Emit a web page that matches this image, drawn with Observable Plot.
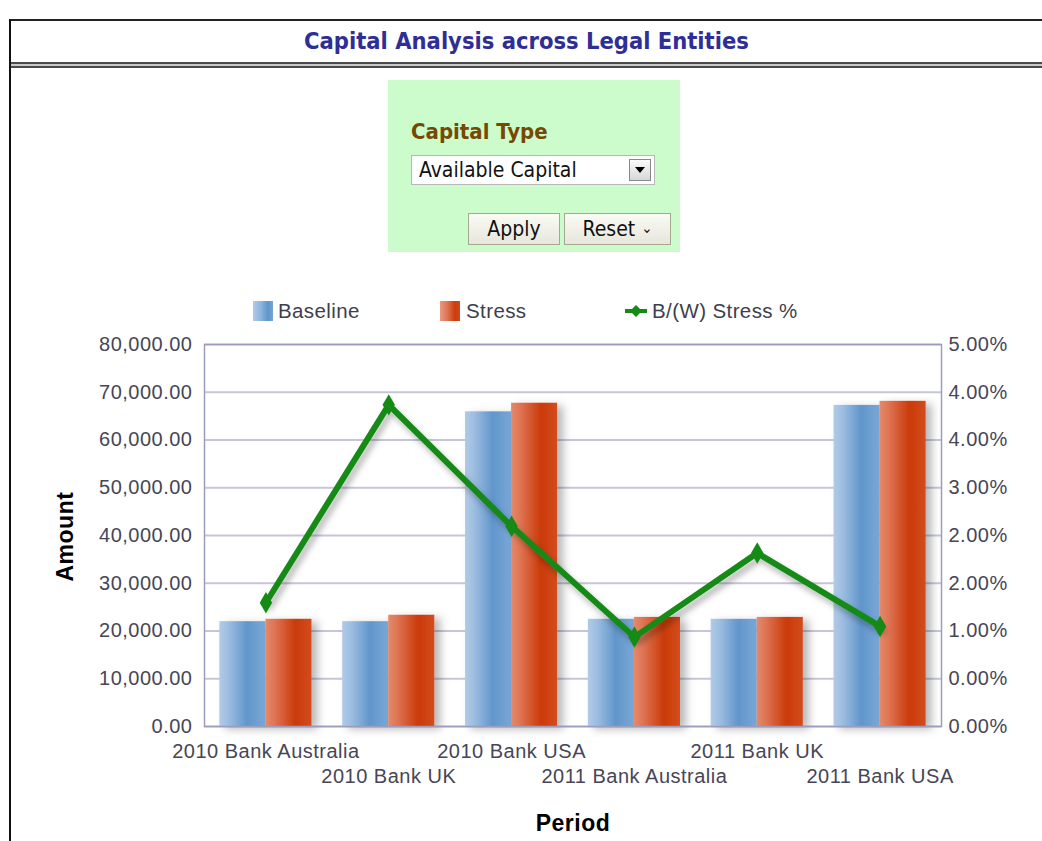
<!DOCTYPE html>
<html>
<head>
<meta charset="utf-8">
<script src="https://cdn.jsdelivr.net/npm/d3@7"></script>
<script src="https://cdn.jsdelivr.net/npm/@observablehq/plot@0.6"></script>
<style>
  html, body { margin: 0; padding: 0; }
  body { width: 1042px; height: 841px; overflow: hidden; background: #fff; position: relative; font-family: "Liberation Sans", Arial, sans-serif; }
  .abs { position: absolute; }
  #frameTop { left: 9px; top: 19px; width: 1040px; height: 2px; background: #222; }
  #frameLeft { left: 9px; top: 19px; width: 2px; height: 830px; background: #111; }
  #title { left: 11px; top: 21px; width: 1031px; height: 41px; line-height: 40px; text-align: center;
           font-family: "DejaVu Sans Condensed", "DejaVu Sans", sans-serif; font-weight: bold; font-size: 23.5px; color: #2e2e96; }
  #dbl { left: 11px; top: 62px; width: 1031px; height: 2px; border-top: 2px solid #4a4a4a; border-bottom: 2px solid #4a4a4a; background: #c8c8c8; }
  #prompt { left: 388px; top: 80px; width: 292px; height: 172px; background: #ccfccc; }
  #ptitle { left: 23px; top: 39px; font-family: "DejaVu Sans Condensed", "DejaVu Sans", sans-serif; font-weight: bold; font-size: 22px; color: #774800; }
  #select { left: 23px; top: 75px; width: 244px; height: 30px; background: #fff; border: 1px solid #b8b8b8; box-sizing: border-box; }
  #selText { left: 7px; top: 2px; font-family: "DejaVu Sans Condensed", "DejaVu Sans", sans-serif; font-size: 21px; color: #111; }
  #selBtn { right: 3px; top: 3px; width: 22px; height: 22px; box-sizing: border-box; border: 1px solid #888; background: linear-gradient(#fafafa, #d8d8d8); }
  .btn { top: 133px; height: 32px; box-sizing: border-box; border: 1px solid #a8a890; background: linear-gradient(#fbfbf6, #e6e6dc);
         font-family: "DejaVu Sans Condensed", "DejaVu Sans", sans-serif; font-size: 21px; color: #111; text-align: center; line-height: 30px; }
  #legend { left: 0; top: 300px; width: 1042px; height: 24px; font-size: 20.5px; letter-spacing: 0.4px; color: #3e3e4e; }
  .sw { top: 1px; width: 20px; height: 20px; }
  .lt { top: 0; line-height: 22px; }
</style>
</head>
<body>
<div id="frameTop" class="abs"></div>
<div id="frameLeft" class="abs"></div>
<div id="title" class="abs">Capital Analysis across Legal Entities</div>
<div id="dbl" class="abs"></div>

<div id="prompt" class="abs">
  <div id="ptitle" class="abs">Capital Type</div>
  <div id="select" class="abs">
    <div id="selText" class="abs">Available Capital</div>
    <div id="selBtn" class="abs">
      <svg width="20" height="20" style="position:absolute;left:0;top:0"><path d="M5,7 L15,7 L10,13 Z" fill="#000"/></svg>
    </div>
  </div>
  <div class="abs btn" style="left:80px;width:92px;">Apply</div>
  <div class="abs btn" style="left:176px;width:107px;">Reset <span style="font-size:15px;position:relative;top:-3px">&#8964;</span></div>
</div>

<div id="legend" class="abs">
  <div class="abs sw" style="left:253px;background:linear-gradient(90deg,#b0cbe8 0%,#8cb4de 40%,#5f95cb 75%,#78a5d5 100%);"></div>
  <div class="abs lt" style="left:278px;">Baseline</div>
  <div class="abs sw" style="left:440px;background:linear-gradient(90deg,#e89a80 0%,#e07656 35%,#cc3c0a 75%,#d04a1c 100%);"></div>
  <div class="abs lt" style="left:466px;">Stress</div>
  <svg class="abs" style="left:624px;top:1px" width="24" height="20">
    <line x1="1" y1="10" x2="23" y2="10" stroke="#158a15" stroke-width="4"/>
    <path d="M12,4 L18,10 L12,16 L6,10 Z" fill="#158a15"/>
  </svg>
  <div class="abs lt" style="left:652px;">B/(W) Stress %</div>
</div>

<div id="chart" class="abs" style="left:0;top:330px;"></div>

<script>
// ---- data ----
const periods = ["2010 Bank Australia", "2010 Bank UK", "2010 Bank USA", "2011 Bank Australia", "2011 Bank UK", "2011 Bank USA"];
const baseline = [21950, 21950, 65900, 22450, 22450, 67250];
const stress = [22450, 23300, 67700, 22850, 22850, 68100];
const stressPct = [1.62, 4.21, 2.62, 1.17, 2.27, 1.31];
const amountTicks = [0, 10000, 20000, 30000, 40000, 50000, 60000, 70000, 80000];
const pctTickLabels = ["0.00%", "0.00%", "1.00%", "2.00%", "2.00%", "3.00%", "4.00%", "4.00%", "5.00%"];
const amountMax = 80000;
const pctMax = 5;

const rows = periods.map((p, i) => ({period: p, baseline: baseline[i], stress: stress[i], pct: stressPct[i]}));

// ---- layout ----
const W = 1042, H = 512;
const mL = 204, mR = 101, mT = 14, mB = 116;
const step = (W - mL - mR) / periods.length;
const half = step * 0.75 / 2;

const chart = Plot.plot({
  width: W, height: H,
  marginLeft: mL, marginRight: mR, marginTop: mT, marginBottom: mB,
  style: {fontFamily: "'Liberation Sans', Arial, sans-serif", fontSize: "20px", letterSpacing: "0.5px", color: "#464656", background: "transparent"},
  x: {domain: periods, paddingInner: 0.25, paddingOuter: 0.125, round: false, axis: null},
  y: {domain: [0, amountMax], axis: null},
  marks: [
    Plot.gridY({ticks: amountTicks, stroke: "#c6c6da", strokeOpacity: 1, strokeWidth: 2}),
    Plot.barY(rows, {x: "period", y: "baseline", fill: "url(#gBase)", insetRight: half}),
    Plot.barY(rows, {x: "period", y: "stress", fill: "url(#gStress)", insetLeft: half}),
    Plot.frame({stroke: "#9c9cbc", strokeWidth: 1.5}),
    Plot.line(rows, {x: "period", y: d => d.pct / pctMax * amountMax, stroke: "#158a15", strokeWidth: 6, strokeLinejoin: "miter"}),
    Plot.dot(rows, {x: "period", y: d => d.pct / pctMax * amountMax, symbol: "diamond", r: 6.5, fill: "#158a15", stroke: null}),
    Plot.axisY({ticks: amountTicks, tickFormat: d3.format(",.2f"), tickSize: 0, tickPadding: 12, label: null}),
    Plot.axisY({anchor: "right", ticks: amountTicks, tickFormat: d => pctTickLabels[amountTicks.indexOf(d)], tickSize: 0, tickPadding: 7, label: null}),
    Plot.axisX({ticks: periods.filter((_, i) => i % 2 === 0), tickSize: 0, tickPadding: 17, label: null}),
    Plot.axisX({ticks: periods.filter((_, i) => i % 2 === 1), tickSize: 0, tickPadding: 42, label: null}),
    Plot.text(["Amount"], {frameAnchor: "left", dx: -139, dy: 46, rotate: -90, fontWeight: "bold", fontSize: 23, fill: "#000"}),
    Plot.text(["Period"], {frameAnchor: "bottom", dy: 104, fontWeight: "bold", fontSize: 23, fill: "#000"})
  ]
});

chart.insertAdjacentHTML("afterbegin", `
<defs>
  <linearGradient id="gBase" x1="0" x2="1" y1="0" y2="0">
    <stop offset="0" stop-color="#b0cbe8"/>
    <stop offset="0.2" stop-color="#9dbde0"/>
    <stop offset="0.6" stop-color="#6196cc"/>
    <stop offset="1" stop-color="#7aa7d6"/>
  </linearGradient>
  <linearGradient id="gStress" x1="0" x2="1" y1="0" y2="0">
    <stop offset="0" stop-color="#e48a6a"/>
    <stop offset="0.2" stop-color="#de7454"/>
    <stop offset="0.65" stop-color="#cb3a08"/>
    <stop offset="1" stop-color="#d24c1e"/>
  </linearGradient>
  <filter id="barShadow" x="-20%" y="-10%" width="160%" height="130%">
    <feDropShadow dx="6" dy="3" stdDeviation="4" flood-color="#000" flood-opacity="0.28"/>
  </filter>
  <filter id="lineShadow" x="-10%" y="-10%" width="130%" height="130%">
    <feDropShadow dx="3" dy="5" stdDeviation="3" flood-color="#000" flood-opacity="0.3"/>
  </filter>
</defs>`);

chart.querySelectorAll('g[aria-label="bar"]').forEach(g => g.setAttribute("filter", "url(#barShadow)"));
chart.querySelectorAll('g[aria-label="line"]').forEach(g => g.setAttribute("filter", "url(#lineShadow)"));

document.getElementById("chart").appendChild(chart);
</script>
</body>
</html>
